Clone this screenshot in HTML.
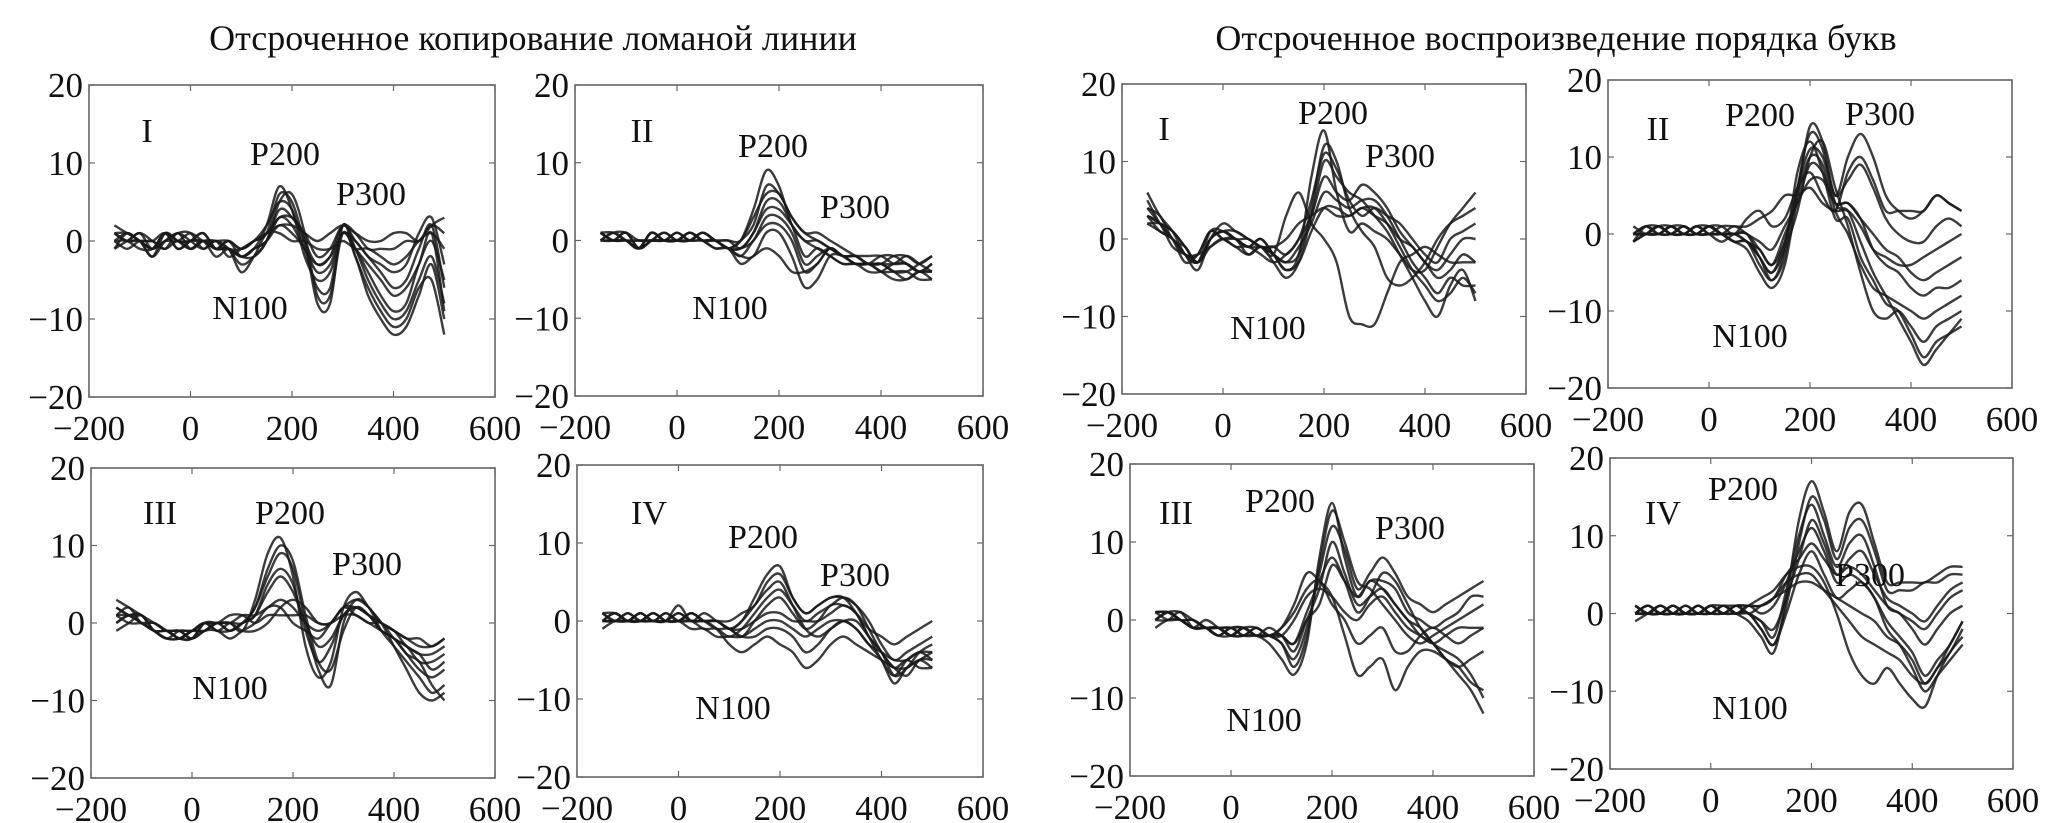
<!DOCTYPE html>
<html><head><meta charset="utf-8"><style>
html,body{margin:0;padding:0;background:#fff}
svg{display:block}
text{font-family:"Liberation Serif",serif;fill:#111}
</style></head><body>
<svg id="fig" width="2067" height="823" viewBox="0 0 2067 823">
<text x="533" y="50" font-size="36" text-anchor="middle">Отсроченное копирование ломаной линии</text>
<text x="1556" y="50" font-size="36" text-anchor="middle">Отсроченное воспроизведение порядка букв</text>
</svg>
<script>
const times=[-150,-125,-100,-75,-50,-25,0,25,50,75,100,125,150,175,200,225,250,275,300,325,350,375,400,425,450,475,500];
const xTicks=[-200,0,200,400,600];
const yTicks=[-20,-10,0,10,20];
const tracesLI=[
[1,0,1,-1,1,0,-1,0,-1,-1,-2,-1,2,7,4,-2,-5,-4,1,-1,-4,-7,-9,-8,-3,0,-5],
[0,1,0,-1,0,1,0,-1,0,-1,-3,-2,0,4,3,0,-8,-8,2,-2,-6,-9,-11,-10,-6,-5,-12],
[1,0,0,-2,1,0,0,0,-1,0,-1,0,1,2,2,1,0,1,2,1,0,0,1,1,0,2,3],
[-1,0,1,0,-1,0,-1,0,-2,-1,-2,-1,0,3,2,-1,-3,-2,1,0,-2,-3,-4,-3,1,3,-3],
[1,1,0,-1,0,0,1,0,0,0,-1,0,2,5,4,-1,-6,-6,2,-1,-5,-8,-10,-9,-5,-2,-8],
[0,-1,0,0,1,-1,0,1,-1,-1,-4,-2,1,1,0,0,-1,-1,0,-1,-1,-2,-3,-2,0,1,-1],
[2,1,0,-2,0,1,1,-1,0,-2,-1,0,1,6,5,0,-3,-2,2,0,-2,-4,-6,-5,-1,2,-6],
[0,0,-1,-1,1,0,0,1,-1,0,-2,-1,0,2,1,-1,-4,-3,1,-1,-3,-5,-7,-6,-3,1,-9],
[-1,1,0,0,-1,1,-1,0,0,-1,-1,0,1,3,3,1,-2,-1,2,1,-1,-1,-1,0,0,2,1],
[1,0,0,-1,1,-1,0,0,-1,-1,-2,-2,0,5,6,1,-7,-7,1,-2,-7,-10,-12,-11,-7,-3,-10]];
const tracesLII=[
[1,0,1,-1,0,0,0,1,0,0,-1,0,4,9,7,2,0,-1,-2,-3,-3,-3,-3,-3,-2,-3,-4],
[0,1,0,-1,1,0,1,0,1,0,-1,-1,1,5,5,2,-2,-1,-2,-3,-3,-4,-4,-3,-3,-4,-3],
[1,0,0,0,0,0,0,0,1,0,-1,-2,-2,1,1,-2,-6,-5,-2,-2,-3,-3,-4,-5,-5,-4,-5],
[0,0,1,-1,0,1,0,1,0,-1,-1,-3,-2,-1,-2,-4,-4,-3,-1,-2,-2,-3,-3,-4,-4,-3,-2],
[1,1,0,0,0,0,0,0,0,0,-1,0,2,7,6,3,1,0,-1,-2,-2,-2,-2,-3,-3,-4,-4],
[0,0,0,-1,1,0,0,1,0,0,-1,-1,0,3,3,1,-3,-2,-1,-2,-3,-3,-4,-4,-4,-5,-5],
[1,0,0,-1,0,1,0,0,1,0,0,-1,1,4,4,2,0,0,-1,-2,-3,-3,-2,-2,-3,-4,-3],
[0,1,1,0,0,0,1,0,0,-1,-1,-2,0,2,2,0,-4,-3,-1,-2,-2,-3,-3,-4,-5,-4,-4],
[1,0,0,-1,1,0,0,1,0,0,0,0,3,6,6,3,1,1,0,-1,-2,-3,-3,-2,-2,-3,-2]];
const tracesLIII=[
[2,1,1,-1,-1,-2,-1,0,0,0,-1,3,9,11,6,-3,-7,-5,2,4,2,0,-3,-6,-9,-10,-9],
[1,2,0,0,-1,-2,-2,0,-1,-1,0,1,5,7,5,-1,-5,-3,1,2,1,-1,-2,-4,-6,-7,-6],
[0,1,0,-1,-2,-1,-1,0,0,1,1,0,1,1,1,1,0,0,2,1,0,-1,-2,-3,-4,-4,-3],
[-1,0,1,-1,-1,-2,-2,-1,-1,-2,-1,0,2,2,0,-1,-2,0,2,3,2,0,-1,-2,-3,-3,-2],
[2,1,0,-1,-2,-2,-1,-1,0,-1,0,2,6,9,7,0,-6,-8,0,3,2,-1,-3,-5,-7,-9,-8],
[1,0,0,0,-1,-1,-2,0,0,0,-1,-1,0,2,3,2,0,0,1,1,0,0,-2,-3,-5,-5,-4],
[3,2,1,0,-1,-1,-2,-1,0,-1,0,1,4,6,4,0,-3,-2,1,2,1,0,-1,-3,-4,-6,-5],
[0,1,1,-1,-2,-2,-1,0,-1,0,0,2,7,10,8,1,-5,-6,-1,2,1,-1,-2,-4,-5,-8,-10],
[1,1,0,-1,-1,-1,-1,-1,0,0,1,1,2,3,2,0,-1,0,2,2,1,0,-1,-2,-2,-3,-2]];
const tracesLIV=[
[0,1,0,1,0,1,0,1,0,0,-1,0,3,6,7,3,1,2,3,3,1,-2,-5,-7,-5,-4,-4],
[1,0,0,0,1,0,0,0,-1,-1,-2,-1,1,3,4,2,0,1,2,3,2,-1,-4,-6,-7,-5,-5],
[-1,0,0,0,0,0,1,0,0,-1,-3,-4,-3,-2,-3,-4,-6,-5,-3,-2,-3,-4,-5,-6,-6,-5,-6],
[0,1,0,0,1,0,0,-1,-1,-2,-2,-2,-1,0,0,-1,-2,-1,0,0,-1,-3,-5,-8,-6,-5,-4],
[1,0,1,0,0,0,0,1,0,0,-1,-1,0,1,1,0,0,0,1,2,1,-1,-2,-3,-2,-1,0],
[0,0,0,1,0,0,1,0,0,0,-1,0,2,4,5,2,-1,-2,-1,0,0,-2,-4,-6,-5,-6,-6],
[0,0,1,0,1,0,0,1,0,-1,-1,-2,0,2,3,1,-1,0,2,2,1,-2,-4,-7,-6,-4,-3],
[1,1,0,0,0,0,2,0,1,0,-1,-2,-2,-1,-1,-2,-4,-3,-1,0,-1,-3,-4,-5,-5,-4,-5],
[0,0,0,1,0,1,0,0,0,0,0,1,2,5,6,3,1,2,3,3,2,0,-3,-5,-4,-3,-2]];
const tracesRI=[
[6,3,1,-2,-3,0,1,0,-1,0,-2,-4,-2,8,14,6,1,2,1,0,-2,-4,-4,-1,2,4,6],
[4,2,0,-3,-2,1,0,-1,-2,-1,-3,-5,-3,3,10,8,6,5,3,1,-2,-5,-8,-10,-6,-4,-8],
[3,1,0,-2,-4,0,2,1,0,-1,-2,3,6,2,0,-3,-10,-11,-11,-7,-3,-2,-1,-2,-3,-3,-3],
[2,2,1,-1,-3,-1,0,-1,-1,-2,-3,-2,0,5,11,9,5,3,4,3,2,0,-2,-3,0,1,2],
[3,2,-1,-2,-3,0,1,0,-1,-1,-2,-3,-1,2,6,5,4,5,5,3,0,-3,-5,-7,-5,-6,-6],
[5,2,0,-2,-2,1,0,0,-1,0,-2,-4,-3,1,4,4,3,4,3,2,0,-1,-3,-4,-2,0,0],
[4,3,0,-1,-3,0,1,1,0,-1,-1,-2,0,3,8,6,5,7,6,4,1,-1,-3,-5,-4,-2,-3],
[2,1,0,-2,-2,-1,0,0,-2,-1,-2,-3,-2,4,12,10,4,1,-1,-5,-6,-5,-3,0,2,3,4],
[3,2,1,-1,-3,1,1,0,0,-1,-1,0,2,3,4,3,3,4,4,2,-1,-4,-6,-8,-7,-5,-7]];
const tracesRII=[
[0,0,1,0,1,0,1,0,-1,-2,-5,-7,-4,5,14,12,5,10,13,10,5,3,2,3,5,4,3],
[-1,0,0,1,0,1,0,0,-1,-1,-3,-6,-2,8,12,8,2,2,-3,-6,-9,-10,-13,-16,-14,-13,-12],
[0,1,0,1,0,0,1,1,0,2,3,1,2,6,8,5,3,8,10,7,3,3,3,3,5,4,3],
[-1,0,1,0,0,1,0,-1,0,0,-3,-5,-2,3,10,12,6,1,-5,-10,-11,-10,-12,-14,-12,-11,-10],
[0,0,0,0,1,0,0,1,1,1,2,3,5,5,6,4,3,3,1,-2,-3,-4,-4,-3,-2,-1,0],
[0,1,1,0,0,0,1,0,0,-1,-2,-4,0,4,9,8,4,4,2,-2,-4,-5,-7,-8,-7,-7,-6],
[1,0,0,1,1,0,0,0,0,-1,-3,-5,-1,6,11,10,5,7,9,6,2,0,-1,-1,1,2,1],
[0,0,1,0,0,1,1,0,0,0,-2,-4,-1,5,10,9,3,0,-4,-7,-8,-9,-10,-11,-10,-9,-8],
[-1,1,0,0,1,0,0,0,1,0,-1,-2,1,4,7,7,4,4,2,0,-2,-3,-5,-6,-5,-4,-3],
[0,0,1,1,0,0,1,0,-1,-1,-4,-6,-3,6,13,11,4,3,-1,-5,-8,-11,-14,-17,-15,-13,-11]];
const tracesRIII=[
[1,1,0,-1,-1,-1,-2,-2,-2,-3,-5,-7,-3,8,15,8,3,5,4,2,0,-1,-3,-5,-7,-9,-12],
[0,1,0,0,-1,-1,-1,-2,-2,-2,-3,-5,-1,6,12,9,4,6,8,6,3,2,1,2,3,4,5],
[1,0,0,-1,0,-1,-2,-1,-2,-2,-1,2,6,5,3,-2,-7,-6,-5,-9,-6,-4,-4,-5,-6,-5,-4],
[-1,0,0,-1,-1,-2,-2,-1,-2,-2,-2,-4,0,4,10,6,2,3,4,2,0,-2,-3,-5,-6,-8,-9],
[0,1,1,0,-1,-1,-1,-1,-2,-1,-2,-3,0,2,7,5,3,5,5,4,1,0,-1,0,1,3,3],
[1,1,0,-1,-1,-2,-1,-2,-1,-2,-2,0,3,4,3,1,0,2,3,1,-1,-2,-3,-2,-1,-1,-1],
[0,0,1,-1,-1,-1,-2,-1,-1,-2,-3,-6,-2,7,14,10,5,4,2,0,-2,-3,-2,-1,0,1,2],
[1,1,0,0,-1,-2,-1,-1,-2,-2,-2,-3,1,5,8,5,1,3,6,5,2,-1,-3,-4,-5,-7,-10],
[0,1,0,-1,-1,-1,-2,-2,-1,-2,-1,1,4,5,2,0,-3,-2,-1,-4,-4,-2,-1,-2,-3,-2,-1]];
const tracesRIV=[
[0,0,1,0,0,1,0,1,0,-1,-3,-5,2,12,17,13,8,13,14,9,4,4,4,4,5,6,6],
[1,0,0,0,1,0,1,0,1,0,-1,-3,3,10,14,10,6,9,10,6,1,0,-2,-4,-2,0,1],
[0,1,0,1,0,0,0,1,0,1,2,3,5,6,6,4,0,-5,-8,-9,-7,-9,-11,-12,-8,-5,-3],
[0,0,0,1,0,0,1,1,1,1,1,2,5,7,9,7,5,6,5,3,1,0,-1,-2,0,2,3],
[-1,0,1,0,0,1,0,0,0,0,-2,-4,0,5,8,5,2,3,4,2,-1,-3,-5,-8,-6,-4,-1],
[0,1,0,0,1,0,0,0,1,1,1,2,3,4,4,3,2,1,0,-1,-3,-4,-6,-9,-7,-5,-2],
[1,0,1,0,0,0,1,0,0,0,-2,-4,1,9,15,12,7,11,12,8,3,3,3,4,4,5,5],
[0,0,0,1,0,1,0,1,0,1,0,1,4,8,11,8,4,5,4,2,-2,-4,-7,-10,-8,-6,-4],
[0,1,0,0,0,0,1,0,1,0,1,2,4,5,5,3,1,-1,-3,-4,-5,-6,-8,-9,-7,-4,-1],
[1,0,0,1,0,0,0,1,0,0,-1,-2,2,7,12,9,5,7,8,5,2,1,0,-1,1,3,4]];

const panels=[
 {id:'left-i',L:89,R:495,T:85,B:397,d:tracesLI,lab:[['I',147,130],['P200',285,153],['P300',371,193],['N100',250,307]]},
 {id:'left-ii',L:575,R:983,T:85,B:396,d:tracesLII,lab:[['II',642,130],['P200',773,145],['P300',855,206],['N100',730,307]]},
 {id:'left-iii',L:91,R:495,T:468,B:778,d:tracesLIII,lab:[['III',160,512],['P200',290,512],['P300',367,563],['N100',230,687]]},
 {id:'left-iv',L:577,R:983,T:465,B:777,d:tracesLIV,lab:[['IV',649,512],['P200',763,536],['P300',855,574],['N100',733,707]]},
 {id:'right-i',L:1122,R:1526,T:84,B:394,d:tracesRI,lab:[['I',1164,128],['P200',1333,112],['P300',1400,155],['N100',1268,327]]},
 {id:'right-ii',L:1608,R:2012,T:80,B:388,d:tracesRII,lab:[['II',1658,128],['P200',1760,114],['P300',1880,113],['N100',1750,335]]},
 {id:'right-iii',L:1130,R:1534,T:464,B:776,d:tracesRIII,lab:[['III',1176,512],['P200',1280,500],['P300',1410,527],['N100',1264,719]]},
 {id:'right-iv',L:1610,R:2013,T:458,B:769,d:tracesRIV,lab:[['IV',1663,512],['P200',1743,488],['P300',1870,574],['N100',1750,707]]}
];
const NS='http://www.w3.org/2000/svg';
const svg=document.getElementById('fig');
function mk(tag,attrs,parent){const e=document.createElementNS(NS,tag);for(const k in attrs)e.setAttribute(k,attrs[k]);(parent||svg).appendChild(e);return e;}
function smooth(pts){let d='M'+pts[0][0].toFixed(1)+','+pts[0][1].toFixed(1);
 for(let i=0;i<pts.length-1;i++){const p0=pts[Math.max(0,i-1)],p1=pts[i],p2=pts[i+1],p3=pts[Math.min(pts.length-1,i+2)];
 const c1=[p1[0]+(p2[0]-p0[0])/6,p1[1]+(p2[1]-p0[1])/6],c2=[p2[0]-(p3[0]-p1[0])/6,p2[1]-(p3[1]-p1[1])/6];
 d+='C'+c1[0].toFixed(1)+','+c1[1].toFixed(1)+' '+c2[0].toFixed(1)+','+c2[1].toFixed(1)+' '+p2[0].toFixed(1)+','+p2[1].toFixed(1);}
 return d;}
panels.forEach(p=>{
 const g=mk('g',{});
 
 
 const sx=v=>p.L+(v+200)/800*(p.R-p.L);
 const sy=v=>p.B-(v+20)/40*(p.B-p.T);
 const box=mk('rect',{x:p.L,y:p.T,width:p.R-p.L,height:p.B-p.T,fill:'none',stroke:'#666','stroke-width':1.6},g);
 
 
 xTicks.forEach(t=>{const x=sx(t);
  mk('line',{x1:x,y1:p.B,x2:x,y2:p.B-6,stroke:'#666','stroke-width':1.2},g);
  mk('line',{x1:x,y1:p.T,x2:x,y2:p.T+6,stroke:'#666','stroke-width':1.2},g);
  const tx=mk('text',{x:x,y:p.B+43,'font-size':35,'text-anchor':'middle'},g);
  tx.textContent=(t<0?'\u2212'+(-t):t);
  
  });
 yTicks.forEach(t=>{const y=sy(t);
  mk('line',{x1:p.L,y1:y,x2:p.L+6,y2:y,stroke:'#666','stroke-width':1.2},g);
  mk('line',{x1:p.R,y1:y,x2:p.R-6,y2:y,stroke:'#666','stroke-width':1.2},g);
  const tx=mk('text',{x:p.L-6,y:y+12,'font-size':35,'text-anchor':'end'},g);
  tx.textContent=(t<0?'\u2212'+(-t):t);
  
  });
 p.d.forEach((tr,i)=>{
  const pts=tr.map((v,j)=>[sx(times[j]),sy(v)]);
  const path=mk('path',{d:smooth(pts),fill:'none',stroke:'#1a1a1a','stroke-width':2.4,'stroke-opacity':0.85},g);
  
  });
 p.lab.forEach(l=>{
  const tx=mk('text',{x:l[1],y:l[2]+12,'font-size':34,'text-anchor':'middle'},g);
  tx.textContent=l[0];
  
  });
});
</script>
</body></html>
